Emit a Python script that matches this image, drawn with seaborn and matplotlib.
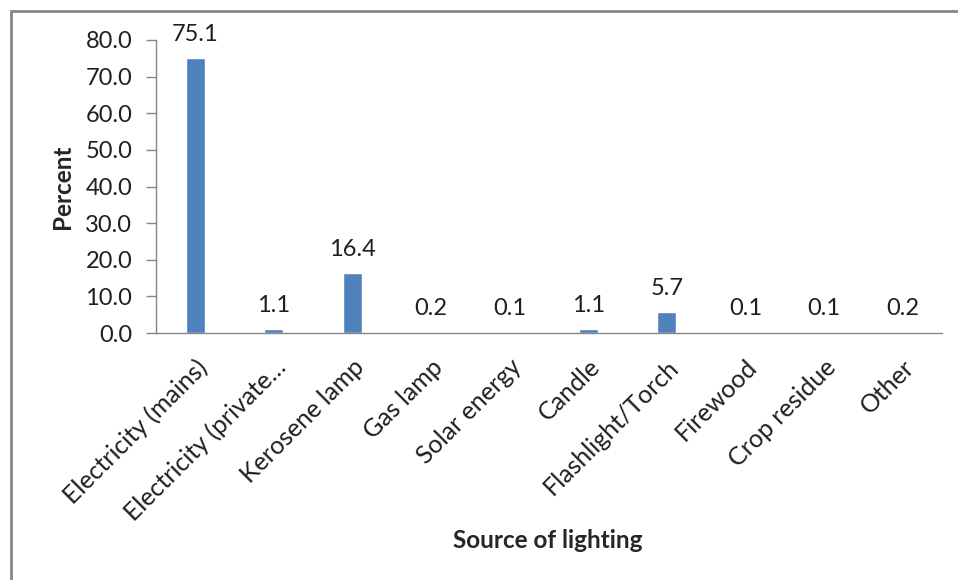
import matplotlib
matplotlib.use("Agg")
import matplotlib.pyplot as plt
import seaborn as sns
import pandas as pd
from matplotlib.patches import Rectangle

categories = ["Electricity (mains)", "Electricity (private\u2026", "Kerosene lamp", "Gas lamp",
              "Solar energy", "Candle", "Flashlight/Torch", "Firewood", "Crop residue", "Other"]
percent = [75.1, 1.1, 16.4, 0.2, 0.1, 1.1, 5.7, 0.1, 0.1, 0.2]
y_ticks = [0, 10, 20, 30, 40, 50, 60, 70, 80]

sns.set_theme(style="white")
plt.rcParams["font.family"] = ["Lato", "DejaVu Sans"]

df = pd.DataFrame({"source": categories, "percent": percent})

fig = plt.figure(figsize=(9.58, 5.8), dpi=100)
ax = fig.add_axes([156 / 958, 1 - 333 / 580, (942 - 156) / 958, (333 - 40) / 580])

sns.barplot(data=df, x="source", y="percent", color="#4F81BD", width=0.24,
            saturation=1, ax=ax)

ax.set_ylim(0, 80)
ax.set_xlim(-0.5, len(categories) - 0.5)
ax.set_yticks(y_ticks)
ax.set_yticklabels([f"{v:.1f}" for v in y_ticks], fontsize=17, color="#1f1f1f")
ax.set_xticks(range(len(categories)))
ax.set_xticklabels(categories, rotation=45, ha="right", rotation_mode="anchor",
                   fontsize=18, color="#1f1f1f")
ax.tick_params(axis="y", which="major", length=7, width=1, color="#868686",
               left=True, pad=10, direction="out")
ax.tick_params(axis="x", length=0, pad=16)

for s in ["top", "right"]:
    ax.spines[s].set_visible(False)
for s in ["left", "bottom"]:
    ax.spines[s].set_color("#868686")
    ax.spines[s].set_linewidth(1)

for i, v in enumerate(percent):
    ax.text(i, v + 3.6, f"{v:.1f}", ha="center", va="bottom", fontsize=17, color="#1f1f1f")

ax.set_ylabel("Percent", fontsize=17.5, fontweight="bold", labelpad=8)
ax.set_xlabel("")
fig.text(548 / 958, 1 - 540 / 580, "Source of lighting", ha="center", va="center",
         fontsize=17.5, fontweight="bold")

# chart frame
fig.patches.append(Rectangle((11 / 958, -0.01), 1.02, 1 - 11 / 580 + 0.01,
                             transform=fig.transFigure, fill=False,
                             edgecolor="#868686", linewidth=2, zorder=10))

fig.savefig("out.png", dpi=100, facecolor="white")
